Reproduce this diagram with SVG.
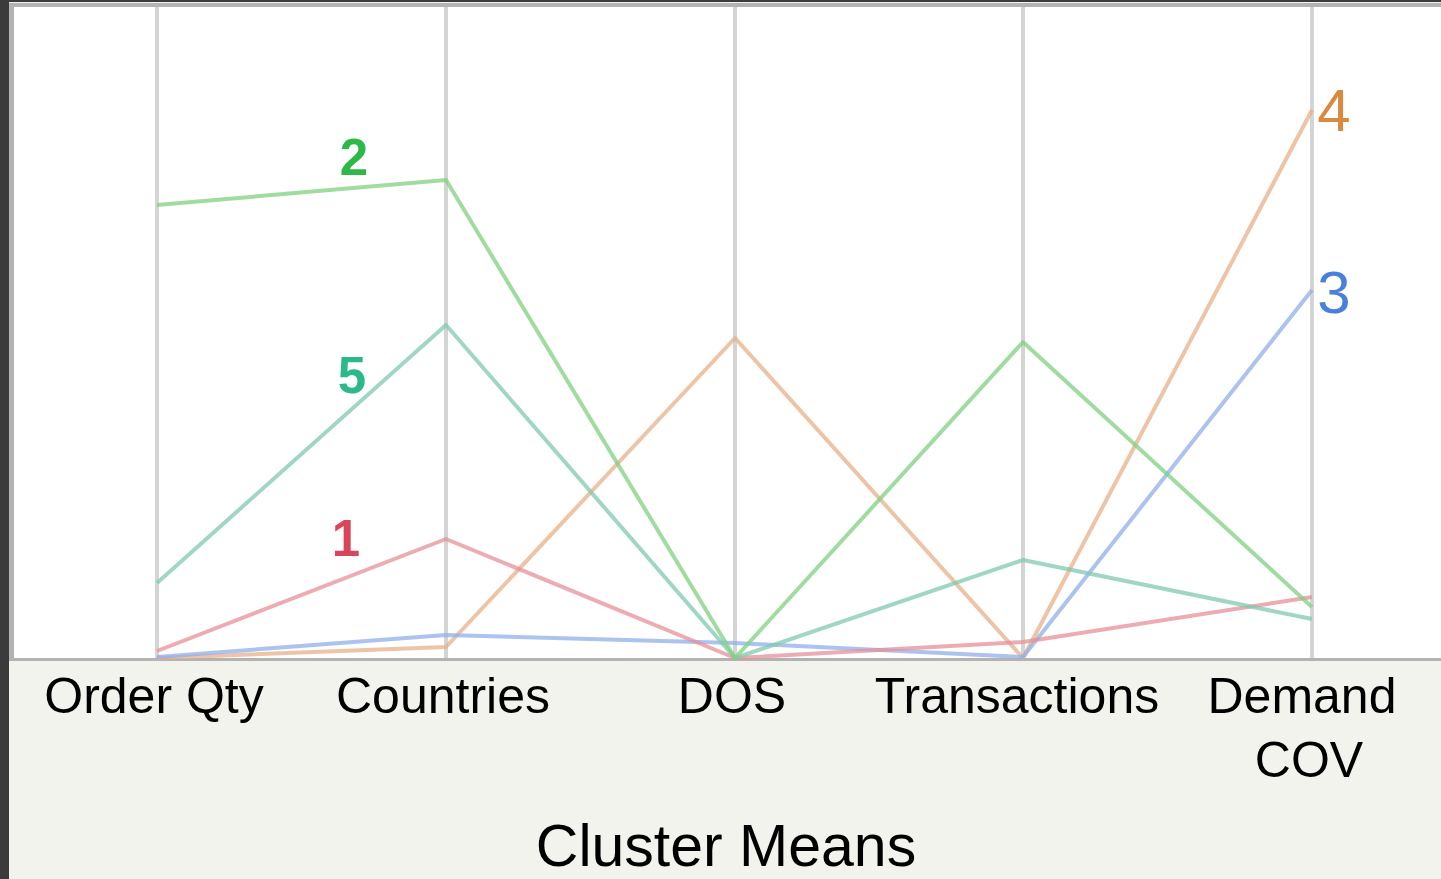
<svg xmlns="http://www.w3.org/2000/svg" width="1441" height="879" viewBox="0 0 1441 879">
<style>
.axis{stroke:#d4d4d4;stroke-width:4;fill:none}
.ln{fill:none;stroke-width:4;stroke-linejoin:round;opacity:0.75}
.lbl{font-family:"Liberation Sans",Arial,sans-serif;font-size:50px;fill:#000;text-anchor:middle}
.title{font-family:"Liberation Sans",Arial,sans-serif;font-size:59px;fill:#000;text-anchor:middle}
.num{font-family:"Liberation Sans",Arial,sans-serif;text-anchor:middle}
</style>
<rect x="0" y="0" width="1441" height="879" fill="#3b3b3b"/>
<rect x="9" y="2" width="1432" height="877" fill="#f3f3ee"/>
<rect x="9" y="3" width="1432" height="658" fill="#b3b3b3"/>
<rect x="14" y="7" width="1427" height="651" fill="#ffffff"/>
<g id="axes">
<line class="axis" x1="157" y1="7" x2="157" y2="658"/>
<line class="axis" x1="446" y1="7" x2="446" y2="658"/>
<line class="axis" x1="735" y1="7" x2="735" y2="658"/>
<line class="axis" x1="1023" y1="7" x2="1023" y2="658"/>
<line class="axis" x1="1312" y1="7" x2="1312" y2="658"/>
</g>
<g id="connectors">
<polyline id="c4" class="ln" stroke="#e8b088" points="157,658 446,647 735,338 1023,658 1312,110"/>
<polyline id="c3" class="ln" stroke="#90aeea" points="157,657 446,635 735,643 1023,657 1312,290"/>
<polyline id="c1" class="ln" stroke="#e69098" points="157,651 446,539 735,658 1023,642 1312,597"/>
<polyline id="c5" class="ln" stroke="#80c8b0" points="157,583 446,325 735,658 1023,560 1312,619"/>
<polyline id="c2" class="ln" stroke="#80d080" points="157,205 446,180 735,658 1023,342 1312,607"/>
</g>
<g id="cluster2"><text class="num" x="354" y="175" font-size="51" font-weight="bold" fill="#2db84a">2</text></g>
<g id="cluster5"><text class="num" x="352" y="393" font-size="51" font-weight="bold" fill="#2bb88a">5</text></g>
<g id="cluster1"><text class="num" x="346" y="556" font-size="51" font-weight="bold" fill="#d9455a">1</text></g>
<g id="cluster4"><text class="num" x="1334" y="131" font-size="60" fill="#d98a40">4</text></g>
<g id="cluster3"><text class="num" x="1334" y="313" font-size="60" fill="#4a80dc">3</text></g>
<g id="labels">
<text class="lbl" x="154" y="713">Order Qty</text>
<text class="lbl" x="443" y="713">Countries</text>
<text class="lbl" x="732" y="713">DOS</text>
<text class="lbl" x="1017" y="713">Transactions</text>
<text class="lbl" x="1302" y="713">Demand</text>
<text class="lbl" x="1309" y="777">COV</text>
<text class="title" x="726" y="866">Cluster Means</text>
</g>
</svg>
